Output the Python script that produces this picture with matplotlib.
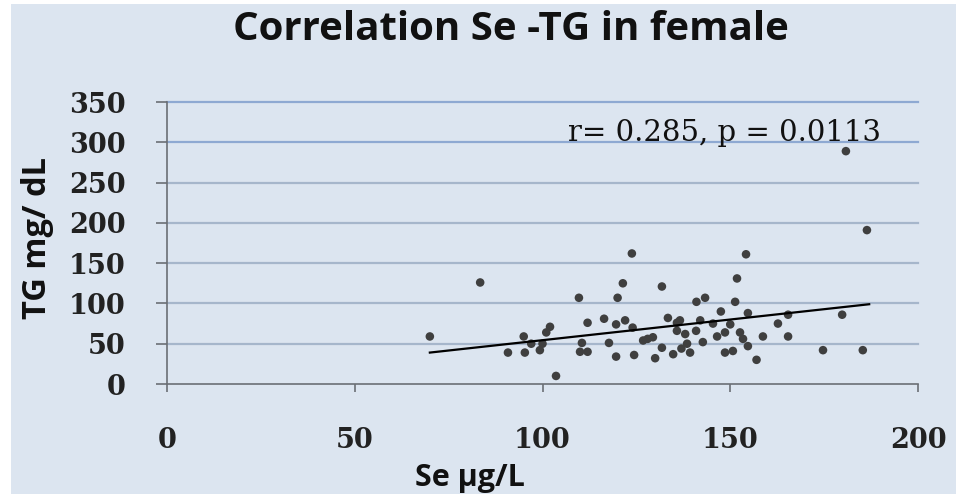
import matplotlib
matplotlib.use("Agg")
import matplotlib.pyplot as plt
from matplotlib.patches import Rectangle

# Data
se = [70, 83.4, 90.8, 95, 95.3, 97, 99.3, 100, 101, 102, 103.6, 109.7, 110.5, 110, 112, 112,
      116.4, 117.7, 119.6, 119.6, 120, 121.4, 123.8, 122, 124, 124.4, 126.8, 128, 129.4, 131.8,
      131.8, 130, 133.4, 134.8, 135.8, 180.8, 186.4, 154.2, 151.8, 151.3, 141, 143.3, 147.5,
      154.7, 165.4, 179.8, 162.7, 174.7, 185.3, 157, 165.4, 158.7, 152.6, 153.4, 154.7, 150,
      148.6, 146.5, 142.7, 150.7, 148.6, 139.3, 136.6, 142, 145.4, 135.8, 138, 138.5, 140.9, 137]
tg = [59, 126, 39, 59, 39, 50, 42, 50, 64, 71, 10, 107, 51, 40, 40, 76,
      81, 51, 34, 74, 107, 125, 162, 79, 70, 36, 54, 56, 58, 121,
      45, 32, 82, 37, 76, 289, 191, 161, 131, 102, 102, 107, 90,
      88, 86, 86, 75, 42, 42, 30, 59, 59, 64, 56, 47, 74,
      64, 59, 52, 41, 39, 39, 79, 79, 75, 66, 62, 50, 66, 44]
trend_x = [70, 187]
trend_y = [39, 99]
x_ticks = [0, 50, 100, 150, 200]
y_ticks = [0, 50, 100, 150, 200, 250, 300, 350]
title = "Correlation Se -TG in female"
xlabel = "Se \u00b5g/L"
ylabel = "TG mg/ dL"
annot = "r= 0.285, p = 0.0113"

W, H = 956, 494
fig = plt.figure(figsize=(W / 100, H / 100), dpi=100, facecolor="white")
bg = "#dce5f0"
fig.patches.append(Rectangle((11 / W, 0), 1 - 11 / W, 1 - 4 / H, transform=fig.transFigure,
                             facecolor=bg, edgecolor="none", zorder=-10))

ax = fig.add_axes([167 / W, (H - 384) / H, (918 - 167) / W, (384 - 102) / H])
ax.set_facecolor(bg)
ax.set_xlim(0, 200)
ax.set_ylim(0, 350)

grid_colors = {350: "#8ea9d2", 300: "#8ea9d2"}
for yv in y_ticks[1:]:
    ax.axhline(yv, color=grid_colors.get(yv, "#a6b6cb"), lw=1.6, zorder=1, clip_on=False)

ax.scatter(se, tg, s=38, color="#3f3f3f", edgecolors="none", zorder=3)
ax.plot(trend_x, trend_y, color="black", lw=1.6, zorder=4)

for s in ["top", "right"]:
    ax.spines[s].set_visible(False)
for s in ["left", "bottom"]:
    ax.spines[s].set_color("#6b6f75")
    ax.spines[s].set_linewidth(1.2)

ax.set_xticks(x_ticks)
ax.set_yticks(y_ticks)
ax.tick_params(axis="y", direction="out", length=8, width=1.2, color="#6b6f75", pad=22)
ax.tick_params(axis="x", direction="out", length=6, width=1.2, color="#6b6f75", pad=25)
for lab in ax.get_xticklabels() + ax.get_yticklabels():
    lab.set_fontfamily("DejaVu Serif")
    lab.set_fontweight("bold")
    lab.set_fontsize(19.5)
    lab.set_color("#222222")

ax.text(106.8, 312, annot, fontsize=21, family="DejaVu Serif", color="#111111",
        va="center", ha="left", zorder=5)

fig.text(511 / W, 1 - 30 / H, title, fontsize=29, family="Open Sans", weight="bold",
         ha="center", va="center", color="#111111")
fig.text(470 / W, 1 - 478 / H, xlabel, fontsize=22, family="Open Sans", weight="bold",
         ha="center", va="center", color="#111111")
fig.text(37 / W, 1 - 238 / H, ylabel, fontsize=23.5, family="Open Sans", weight="bold",
         ha="center", va="center", rotation=90, color="#111111")

fig.savefig("out.png", dpi=100, facecolor=fig.get_facecolor())
